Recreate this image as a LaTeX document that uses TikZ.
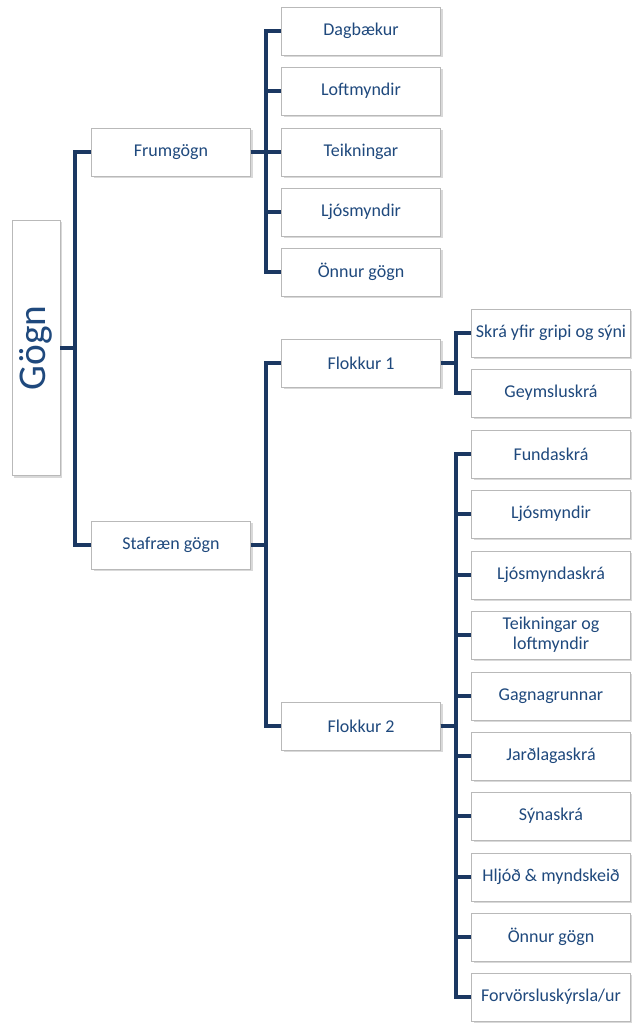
\documentclass[tikz,border=0pt]{standalone}
\usepackage{fontspec}
\setmainfont{Carlito}
\usepackage{tikz}
\usetikzlibrary{positioning}
\usetikzlibrary{shadows}

\definecolor{textblue}{RGB}{31,73,125}
\definecolor{lineblue}{RGB}{27,56,98}

\begin{document}
\begin{tikzpicture}[x=0.75pt,y=-0.75pt,
    box/.style={draw=gray!55,fill=white,text=textblue,
      minimum width=119.25pt,minimum height=36pt,inner sep=1pt,
      font=\fontsize{13.5}{15}\selectfont,align=center,
      drop shadow={shadow xshift=1.5pt,shadow yshift=-1.5pt,opacity=0.3}},
    conn/.style={draw=lineblue,line width=3pt,line join=miter}]
          \useasboundingbox (0,0) rectangle (631,1023);

          % root
          \node[box,minimum width=36pt,minimum height=191.25pt] (gogn) at (36,348)
            {\rotatebox{90}{\fontsize{29.5}{32}\selectfont Gögn}};

          \node[box] (frum) at (171,152) {Frumgögn};
          \node[box] (staf) at (171,545) {Stafræn gögn};

          \node[box] (dagb) at (361,31) {Dagbækur};
          \node[box] (loft) at (361,91) {Loftmyndir};
          \node[box] (teik) at (361,152) {Teikningar};
          \node[box] (ljos) at (361,212) {Ljósmyndir};
          \node[box] (onn1) at (361,272) {Önnur gögn};

          \node[box] (flo1) at (361,363) {Flokkur 1};
          \node[box] (flo2) at (361,726) {Flokkur 2};

          \node[box,inner sep=0pt] (skra) at (551,333) {Skrá yfir gripi og sýni};
          \node[box] (geym) at (551,393) {Geymsluskrá};

          \node[box] (fund) at (551,454) {Fundaskrá};
          \node[box] (ljm2) at (551,514) {Ljósmyndir};
          \node[box] (ljsk) at (551,575) {Ljósmyndaskrá};
          \node[box] (teil) at (551,635) {Teikningar og\\loftmyndir};
          \node[box] (gagn) at (551,696) {Gagnagrunnar};
          \node[box] (jard) at (551,756) {Jarðlagaskrá};
          \node[box] (syna) at (551,816) {Sýnaskrá};
          \node[box] (hljo) at (551,877) {Hljóð \& myndskeið};
          \node[box] (onn2) at (551,937) {Önnur gögn};
          \node[box] (forv) at (551,997) {Forvörsluskýrsla/ur};

          % connectors
          \draw[conn] (gogn.east) -- ++(15,0) |- (frum.west);
          \draw[conn] (gogn.east) -- ++(15,0) |- (staf.west);

          \draw[conn] (frum.east) -- ++(15,0) |- (dagb.west);
          \draw[conn] (frum.east) -- ++(15,0) |- (loft.west);
          \draw[conn] (frum.east) -- ++(15,0) |- (teik.west);
          \draw[conn] (frum.east) -- ++(15,0) |- (ljos.west);
          \draw[conn] (frum.east) -- ++(15,0) |- (onn1.west);

          \draw[conn] (staf.east) -- ++(15,0) |- (flo1.west);
          \draw[conn] (staf.east) -- ++(15,0) |- (flo2.west);

          \draw[conn] (flo1.east) -- ++(15,0) |- (skra.west);
          \draw[conn] (flo1.east) -- ++(15,0) |- (geym.west);

          \draw[conn] (flo2.east) -- ++(15,0) |- (fund.west);
          \draw[conn] (flo2.east) -- ++(15,0) |- (ljm2.west);
          \draw[conn] (flo2.east) -- ++(15,0) |- (ljsk.west);
          \draw[conn] (flo2.east) -- ++(15,0) |- (teil.west);
          \draw[conn] (flo2.east) -- ++(15,0) |- (gagn.west);
          \draw[conn] (flo2.east) -- ++(15,0) |- (jard.west);
          \draw[conn] (flo2.east) -- ++(15,0) |- (syna.west);
          \draw[conn] (flo2.east) -- ++(15,0) |- (hljo.west);
          \draw[conn] (flo2.east) -- ++(15,0) |- (onn2.west);
          \draw[conn] (flo2.east) -- ++(15,0) |- (forv.west);
        \end{tikzpicture}
\end{document}
